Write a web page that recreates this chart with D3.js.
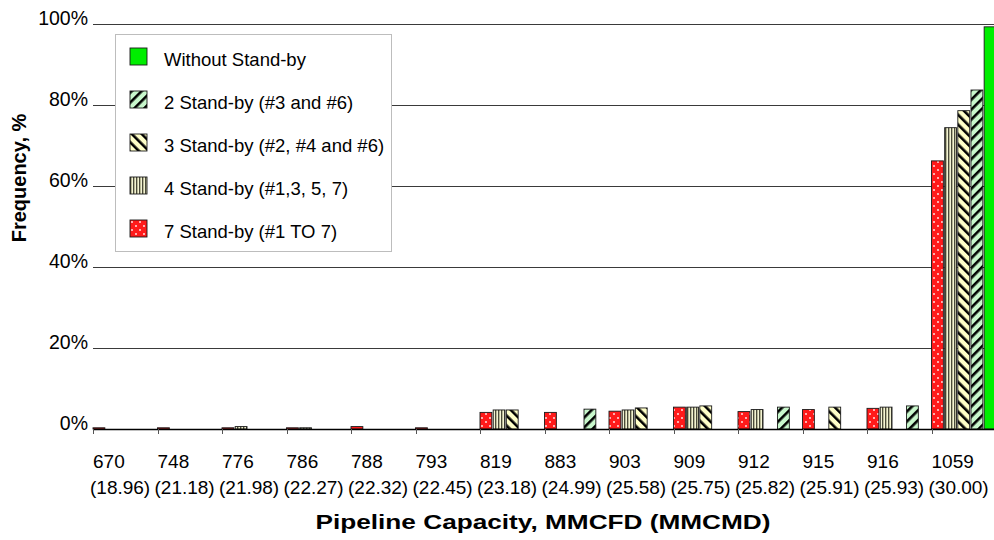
<!DOCTYPE html>
<html>
<head>
<meta charset="utf-8">
<script src="https://cdn.jsdelivr.net/npm/d3@7/dist/d3.min.js"></script>
<style>
  html, body { margin: 0; padding: 0; background: #fff; }
  svg { display: block; font-family: "Liberation Sans", Arial, sans-serif; }
</style>
</head>
<body>
<svg id="chart" width="994" height="540"></svg>
<script>
// Pipeline capacity categories (MMCFD) and their metric equivalents (MMCMD)
const capacityMMCFD = ["670", "748", "776", "786", "788", "793", "819", "883", "903", "909", "912", "915", "916", "1059"];
const capacityMMCMD = ["(18.96)", "(21.18)", "(21.98)", "(22.27)", "(22.32)", "(22.45)", "(23.18)", "(24.99)", "(25.58)", "(25.75)", "(25.82)", "(25.91)", "(25.93)", "(30.00)"];

// Frequency (%) of each capacity for every stand-by scenario
const standby7 = [0.3, 0.3, 0.3, 0.3, 0.6, 0.3, 4.1, 4.1, 4.4, 5.4, 4.3, 4.8, 5.1, 66.2];
const standby4 = [0, 0, 0.6, 0.3, 0, 0, 4.7, 0, 4.7, 5.4, 4.8, 0, 5.4, 74.4];
const standby3 = [0, 0, 0, 0, 0, 0, 4.7, 0, 5.2, 5.7, 0, 5.4, 0, 78.6];
const standby2 = [0, 0, 0, 0, 0, 0, 0, 4.9, 0, 0, 5.4, 0, 5.7, 83.7];
const withoutStandby = [0, 0, 0, 0, 0, 0, 0, 0, 0, 0, 0, 0, 0, 99.3];

const yTicks = [0, 20, 40, 60, 80, 100];

// Series in drawing order within each category (left to right)
const series = [
  { key: "sb7", name: "7 Stand-by (#1 TO 7)", values: standby7, fill: "url(#dots)" },
  { key: "sb4", name: "4 Stand-by (#1,3, 5, 7)", values: standby4, fill: "url(#vstripes)" },
  { key: "sb3", name: "3 Stand-by (#2, #4 and #6)", values: standby3, fill: "url(#backdiag)" },
  { key: "sb2", name: "2 Stand-by (#3 and #6)", values: standby2, fill: "url(#fwddiag)" },
  { key: "none", name: "Without Stand-by", values: withoutStandby, fill: "#00ee00" }
];
const legendOrder = ["none", "sb2", "sb3", "sb4", "sb7"];

const svg = d3.select("#chart");
const plot = { left: 93, right: 996, top: 24, bottom: 429 };

// Fill patterns
const defs = svg.append("defs");
const dots = defs.append("pattern").attr("id", "dots").attr("patternUnits", "userSpaceOnUse")
  .attr("width", 8).attr("height", 8);
dots.append("rect").attr("width", 8).attr("height", 8).attr("fill", "#ff1a1a");
dots.append("circle").attr("cx", 2).attr("cy", 2).attr("r", 1).attr("fill", "#ffe0e0");
dots.append("circle").attr("cx", 6).attr("cy", 6).attr("r", 1).attr("fill", "#ffe0e0");

const vs = defs.append("pattern").attr("id", "vstripes").attr("patternUnits", "userSpaceOnUse")
  .attr("width", 3).attr("height", 3);
vs.append("rect").attr("width", 3).attr("height", 3).attr("fill", "#b8b896");
vs.append("rect").attr("x", 0).attr("width", 1).attr("height", 3).attr("fill", "#4a4a3a");
vs.append("rect").attr("x", 2).attr("width", 1).attr("height", 3).attr("fill", "#f4f4d4");

function diagPattern(id, bg, angle) {
  const p = defs.append("pattern").attr("id", id).attr("patternUnits", "userSpaceOnUse")
    .attr("width", 7).attr("height", 7).attr("patternTransform", `rotate(${angle})`);
  p.append("rect").attr("width", 7).attr("height", 7).attr("fill", bg);
  p.append("rect").attr("x", 0).attr("width", 2.6).attr("height", 7).attr("fill", "#000");
}
diagPattern("backdiag", "#ffffc8", -45);
diagPattern("fwddiag", "#c8f7cc", 45);

// Scales
const x = d3.scaleBand().domain(capacityMMCFD).range([plot.left, plot.right]).padding(0);
const xs = d3.scaleBand().domain(series.map(s => s.key)).range([0, x.bandwidth()])
  .paddingInner(0.1).paddingOuter(0);
const y = d3.scaleLinear().domain([0, 100]).range([plot.bottom, plot.top]);

// Gridlines
svg.append("g").selectAll("line").data(yTicks.filter(t => t > 0)).join("line")
  .attr("x1", plot.left).attr("x2", 994)
  .attr("y1", d => Math.round(y(d)) + 0.5).attr("y2", d => Math.round(y(d)) + 0.5)
  .attr("stroke", "#3a3a3a").attr("stroke-width", 1);

// Y tick labels
svg.append("g").selectAll("text").data(yTicks).join("text")
  .attr("x", 88).attr("y", d => y(d) + 1)
  .attr("text-anchor", "end").attr("font-size", 19.5).attr("fill", "#000")
  .text(d => d + "%");

// Bars
const groups = svg.append("g").selectAll("g").data(series).join("g");
groups.selectAll("rect")
  .data(s => s.values.map((v, i) => ({ s, v, cat: capacityMMCFD[i] })).filter(d => d.v > 0))
  .join("rect")
  .attr("x", d => x(d.cat) + xs(d.s.key))
  .attr("width", xs.bandwidth())
  .attr("y", d => y(d.v))
  .attr("height", d => y(0) - y(d.v))
  .attr("fill", d => d.s.fill)
  .attr("stroke", "#1a1a1a").attr("stroke-width", 0.9);

// Category axis baseline and ticks
svg.append("line").attr("x1", plot.left).attr("x2", 994)
  .attr("y1", plot.bottom + 0.5).attr("y2", plot.bottom + 0.5)
  .attr("stroke", "#000").attr("stroke-width", 1.6);
svg.append("g").selectAll("line").data(capacityMMCFD).join("line")
  .attr("x1", d => Math.round(x(d)) + 0.5).attr("x2", d => Math.round(x(d)) + 0.5)
  .attr("y1", plot.bottom).attr("y2", plot.bottom + 5)
  .attr("stroke", "#555").attr("stroke-width", 1);

// Two-line category labels
const lbl = svg.append("g").attr("font-size", 19).attr("fill", "#000");
lbl.selectAll("text.l1").data(capacityMMCFD).join("text").attr("class", "l1")
  .attr("x", d => x(d)).attr("y", 468).text(d => d);
lbl.selectAll("text.l2").data(capacityMMCFD).join("text").attr("class", "l2")
  .attr("x", (d) => x(d) - 3).attr("y", 494).text((d, i) => capacityMMCMD[i]);

// Axis titles
svg.append("text").attr("x", 543).attr("y", 529).attr("text-anchor", "middle")
  .attr("font-size", 21).attr("font-weight", "bold")
  .attr("textLength", 455).attr("lengthAdjust", "spacingAndGlyphs")
  .text("Pipeline Capacity, MMCFD (MMCMD)");
svg.append("text").attr("transform", "translate(26,178) rotate(-90)").attr("text-anchor", "middle")
  .attr("font-size", 20).attr("font-weight", "bold").text("Frequency, %");

// Legend
const legend = svg.append("g");
legend.append("rect").attr("x", 115.5).attr("y", 34.5).attr("width", 276).attr("height", 217)
  .attr("fill", "#fff").attr("stroke", "#bdbdbd").attr("stroke-width", 1);
const rows = legend.selectAll("g").data(legendOrder.map(k => series.find(s => s.key === k))).join("g")
  .attr("transform", (d, i) => `translate(130,${48 + i * 43})`);
rows.append("rect").attr("width", 17).attr("height", 17).attr("fill", d => d.fill)
  .attr("stroke", "#1a1a1a").attr("stroke-width", 0.9);
rows.append("text").attr("x", 34).attr("y", 17.5).attr("font-size", 18.5).text(d => d.name);
</script>
</body>
</html>
